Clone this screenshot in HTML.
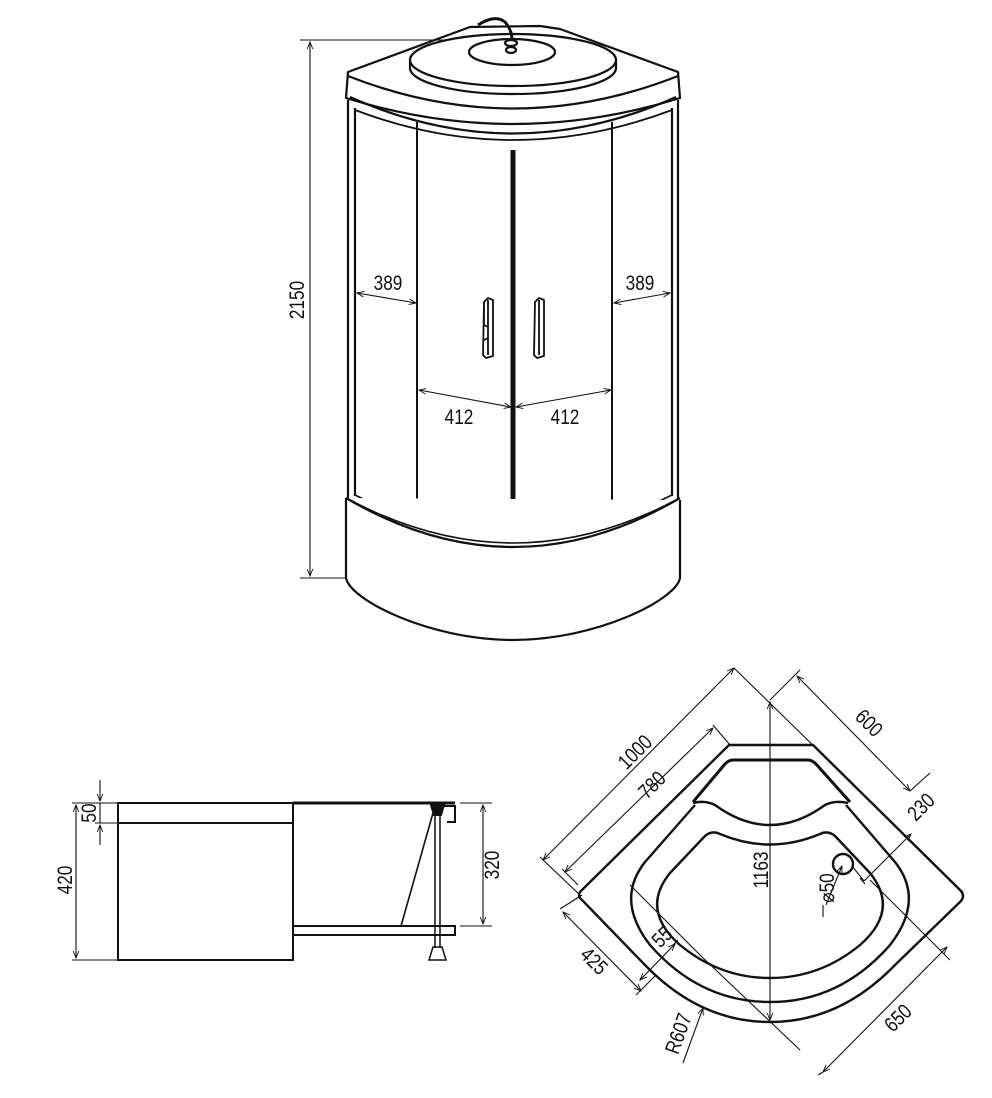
<!DOCTYPE html>
<html><head><meta charset="utf-8"><style>
html,body{margin:0;padding:0;background:#fff}
svg{display:block}
text{font-family:"Liberation Sans",sans-serif;font-size:21px;fill:#111}
</style></head><body>
<svg width="992" height="1098" viewBox="0 0 992 1098" xmlns="http://www.w3.org/2000/svg">
<defs>
<marker id="a" viewBox="0 0 10 10" refX="10" refY="5" markerWidth="9" markerHeight="7" orient="auto-start-reverse" markerUnits="userSpaceOnUse"><path d="M0,1 L10,5 L0,9" fill="none" stroke="#111" stroke-width="1.3"/></marker>
</defs>
<g fill="none" stroke="#111" stroke-width="2.2" stroke-linejoin="round">
<!-- CABIN -->
<path d="M348,72 L470,27 L540,26 L560,29 L678,72 L680,98 Q513,150 346,98 Z" fill="#fff"/>
<path d="M348,76 Q513,141 678,76"/>
<path d="M350,97 Q513,170 676,97"/>
<path d="M348,100 L348,500 M678,100 L678,500"/>
<path d="M355,108 L355,496 M672,108 L672,496"/>
<path d="M355,110 Q513,170 672,110" stroke-width="1.8"/>
<!-- disk -->
<path d="M410,68 L410,60 A103,26 0 0 1 616,60 L616,68 A103,26 0 0 1 410,68 Z" fill="#fff"/>
<path d="M410,60 A103,26 0 0 0 616,60"/>
<ellipse cx="512" cy="52" rx="43" ry="13"/>
<path d="M478,25 Q495,14 505,22 Q512,30 512,40" stroke-width="3"/>
<ellipse cx="511" cy="43" rx="6" ry="3" fill="#fff"/>
<ellipse cx="511" cy="50" rx="5" ry="3" fill="#fff"/>
<!-- panels -->
<path d="M417,122 L417,520 M612,122 L612,520" stroke-width="2"/>
<path d="M513,150 L513,536" stroke-width="5"/>
<path d="M355,495 Q513,575 672,495" stroke-width="1.8"/>
<!-- handles -->
<path d="M484,302 L488,298 L493,300 L493,356 L486,358 L483,355 Z M488,300 L488,355 M484,302 L484,325 L488,327 M484,340 L488,338" stroke-width="1.8"/>
<path d="M535,302 L539,298 L544,300 L544,356 L537,358 L534,355 Z M539,300 L539,355" stroke-width="1.8"/>
<!-- base -->
<path d="M346,498 L346,578 C350,600 430,640 513,640 C596,640 676,600 680,578 L680,500" fill="#fff"/>
<path d="M346,498 Q513,596 680,498"/>
<path d="M350,500 Q513,586 676,500" stroke-width="1.6"/>
</g>
<g fill="none" stroke="#111" stroke-width="1.1">
<path d="M300,40 L450,40 M300,578 L345,578"/>
<path d="M310,42 L310,576" marker-start="url(#a)" marker-end="url(#a)"/>
<path d="M357,293 L416,303" marker-start="url(#a)" marker-end="url(#a)"/>
<path d="M614,303 L670,293" marker-start="url(#a)" marker-end="url(#a)"/>
<path d="M419,390 L511,407" marker-start="url(#a)" marker-end="url(#a)"/>
<path d="M516,407 L611,390" marker-start="url(#a)" marker-end="url(#a)"/>
</g>
<text transform="translate(304,300) rotate(-90) scale(0.82,1)" text-anchor="middle">2150</text>
<text transform="translate(388,290) scale(0.82,1)" text-anchor="middle">389</text>
<text transform="translate(640,290) scale(0.82,1)" text-anchor="middle">389</text>
<text transform="translate(459,424) scale(0.82,1)" text-anchor="middle">412</text>
<text transform="translate(565,424) scale(0.82,1)" text-anchor="middle">412</text>

<!-- SIDE VIEW -->
<g fill="none" stroke="#111" stroke-width="2">
<rect x="118" y="803" width="175" height="157"/>
<path d="M118,823 L293,823"/>
<path d="M293,803 L455,803" stroke-width="3"/>
<path d="M440,806 L455,806 L455,822 L447,822"/>
<rect x="293" y="926" width="162" height="9"/>
<path d="M433,813 L401,926" stroke-width="1.6"/>
<path d="M435,812 L435,948 M440,812 L440,948" stroke-width="1.5"/>
<path d="M431,805 L444,805 L441,815 L434,815 Z" fill="#111"/>
<path d="M433,947 L442,947 L446,960 L429,960 Z" stroke-width="1.5"/>
</g>
<path d="M293,805 L293,875 M293,898 L293,960" stroke="#111" stroke-width="1.5"/>
<g fill="none" stroke="#111" stroke-width="1.1">
<path d="M72,803 L118,803 M72,960 L118,960 M95,823 L118,823 M460,803 L492,803 M460,926 L492,926"/>
<path d="M76,805 L76,958" marker-start="url(#a)" marker-end="url(#a)"/>
<path d="M100,780 L100,801" marker-end="url(#a)"/>
<path d="M100,845 L100,825" marker-end="url(#a)"/>
<path d="M100,803 L100,823"/>
<path d="M483,805 L483,924" marker-start="url(#a)" marker-end="url(#a)"/>
</g>
<text transform="translate(72,880) rotate(-90) scale(0.82,1)" text-anchor="middle">420</text>
<text transform="translate(96,813) rotate(-90) scale(0.82,1)" text-anchor="middle">50</text>
<text transform="translate(499,865) rotate(-90) scale(0.82,1)" text-anchor="middle">320</text>

<!-- PLAN VIEW -->
<g fill="none" stroke="#111" stroke-width="2.4" stroke-linejoin="round">
<path d="M729,745 L813,745 L960,890 Q966,896 960,902 L895,965 Q840,1022 770,1022 Q700,1022 645,965 L582,900 Q576,895 582,890 Z"/>
<path d="M733,760 L808,760 Q812,760 816,764 L850,802" stroke-width="3"/>
<path d="M733,760 Q729,760 725,764 L693,802" stroke-width="3"/>
<path d="M693,803 Q705,800 715,805 Q770,845 825,805 Q835,800 848,803"/>
<path d="M705,836 Q712,830 720,834 Q770,855 820,834 Q828,830 835,836 L870,873 Q900,910 860,945 Q820,978 770,978 Q720,978 680,945 Q640,910 670,873 Z"/>
<path d="M695,805 L645,862 Q615,900 650,945 Q700,1002 770,1002 Q840,1002 890,945 Q925,900 895,862 L846,805"/>
</g>
<circle cx="843" cy="864" r="10" fill="none" stroke="#111" stroke-width="2.4"/>
<g fill="none" stroke="#111" stroke-width="1.1">
<path d="M770,702 L770,1020" marker-start="url(#a)" marker-end="url(#a)"/>
<path d="M543,860 L734,668" marker-start="url(#a)" marker-end="url(#a)"/>
<path d="M565,872 L713,728" marker-start="url(#a)" marker-end="url(#a)"/>
<path d="M540,857 L581,896 M734,668 L963,892 M713,725 L730,745 M562,869 L578,885"/>
<path d="M797,676 L910,791" marker-start="url(#a)" marker-end="url(#a)"/>
<path d="M770,700 L800,670 M910,791 L930,773"/>
<path d="M864,881 L911,834" marker-end="url(#a)"/>
<path d="M860,878 L865,884 M852,866 L864,881"/>
<path d="M563,912 L641,991" marker-start="url(#a)" marker-end="url(#a)"/>
<path d="M560,909 L582,895 M636,995 L655,976"/>
<path d="M640,980 L675,944" marker-start="url(#a)" marker-end="url(#a)"/>
<path d="M673,945 L678,940"/>
<path d="M947,947 L823,1072" marker-start="url(#a)" marker-end="url(#a)"/>
<path d="M800,1050 L700,955 M700,955 L630,885 M870,880 L950,960 M823,1072 L818,1075"/>
<path d="M683,1063 L703,1008" marker-end="url(#a)"/>
<path d="M842,866 L826,905" marker-start="url(#a)"/>
<path d="M823,905 L823,917"/>
</g>
<text transform="translate(640,757) rotate(-45) scale(0.82,1)" text-anchor="middle">1000</text>
<text transform="translate(657,790) rotate(-45) scale(0.82,1)" text-anchor="middle">780</text>
<text transform="translate(864,728) rotate(45) scale(0.82,1)" text-anchor="middle">600</text>
<text transform="translate(926,812) rotate(-45) scale(0.82,1)" text-anchor="middle">230</text>
<text transform="translate(768,870) rotate(-90) scale(0.82,1)" text-anchor="middle">1163</text>
<text transform="translate(834,888) rotate(-90) scale(0.82,1)" text-anchor="middle">⌀50</text>
<text transform="translate(589,966) rotate(45) scale(0.82,1)" text-anchor="middle">425</text>
<text transform="translate(667,942) rotate(-45) scale(0.82,1)" text-anchor="middle">55</text>
<text transform="translate(685,1036) rotate(-70) scale(0.82,1)" text-anchor="middle">R607</text>
<text transform="translate(903,1023) rotate(-45) scale(0.82,1)" text-anchor="middle">650</text>
</svg>
</body></html>
